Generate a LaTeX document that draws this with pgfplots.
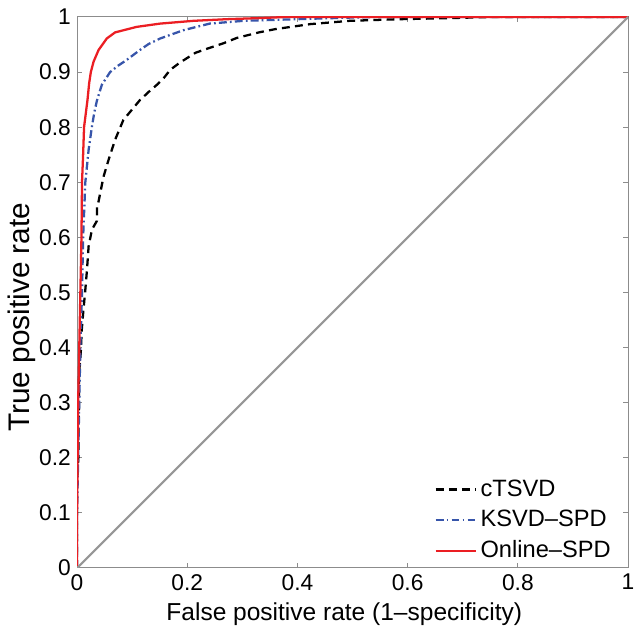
\documentclass[border=0pt]{standalone}
\usepackage{pgfplots}
\pgfplotsset{compat=1.18}
\usepackage{fontspec}
\setmainfont{Liberation Sans}
\usetikzlibrary{calc}
\definecolor{axgray}{RGB}{140,140,140}
\definecolor{diaggray}{RGB}{150,150,150}
\definecolor{ksvdblue}{RGB}{55,85,170}
\definecolor{onlinered}{RGB}{235,30,35}
\begin{document}
\begin{tikzpicture}
\begin{axis}[name=ax,
  scale only axis, width=314.6pt, height=314.6pt,
  xmin=0, xmax=1, ymin=0, ymax=1,
  xtick={0,0.2,0.4,0.6,0.8,1},
  ytick={0,0.1,0.2,0.3,0.4,0.5,0.6,0.7,0.8,0.9,1},
  tick align=inside, tick pos=both,
  major tick length=3pt,
  axis line style={axgray, line width=0.6pt},
  every tick/.style={axgray, line width=0.6pt},
  /pgf/number format/assume math mode=true,
  /pgf/number format/fixed,
  tick label style={font=\fontsize{13}{15}\selectfont, black},
  xlabel style={font=\fontsize{14}{16}\selectfont, black, at={(ticklabel cs:0.485)}},
  ylabel style={font=\fontsize{17}{20}\selectfont, black, at={(ticklabel cs:0.455)}},
  ylabel shift=-5pt,
  xlabel={False positive rate (1--specificity)},
  ylabel={True positive rate},
  legend style={draw=none, fill=none, at={(0.985,0.0)}, anchor=south east,
    font=\fontsize{13.5}{16}\selectfont, row sep=2.5pt,
    legend cell align=left},
  legend image code/.code={\draw[#1] (0pt,0pt) -- (23pt,0pt);},
  clip=true,
]
\addplot[black, line width=1.3pt, dash pattern=on 4.5pt off 3pt] coordinates {
(0,0) (0,0.16) (0.0024,0.2) (0.0024,0.25) (0.0036,0.3) (0.0036,0.354) (0.0067,0.39)
(0.0085,0.432) (0.011,0.462) (0.015,0.505) (0.018,0.541) (0.021,0.584) (0.027,0.614)
(0.036,0.63) (0.036,0.655) (0.039,0.665) (0.045,0.695) (0.048,0.71) (0.057,0.74)
(0.069,0.777) (0.084,0.813) (0.099,0.831) (0.114,0.849) (0.13,0.864) (0.145,0.877)
(0.158,0.89) (0.169,0.904) (0.185,0.916) (0.199,0.925) (0.215,0.935) (0.229,0.94)
(0.265,0.952) (0.29,0.962) (0.33,0.972) (0.36,0.978) (0.423,0.987) (0.495,0.993)
(0.586,0.996) (0.68,0.998) (0.75,1) (1,1)
};
\addlegendentry{cTSVD}
\addplot[ksvdblue, line width=1.3pt, dash pattern=on 4.5pt off 1.8pt on 1pt off 1.8pt] coordinates {
(0,0) (0,0.1) (0.002,0.2) (0.004,0.3) (0.006,0.4) (0.009,0.5) (0.011,0.6)
(0.015,0.7) (0.021,0.759) (0.027,0.801) (0.031,0.825) (0.036,0.848) (0.045,0.877)
(0.06,0.9) (0.075,0.912) (0.09,0.922) (0.114,0.94) (0.13,0.951) (0.151,0.961)
(0.193,0.976) (0.241,0.988) (0.302,0.993) (0.4,0.996) (0.5,0.999) (0.55,1) (1,1)
};
\addlegendentry{KSVD--SPD}
\addplot[onlinered, line width=1.3pt] coordinates {
(0,0) (0,0.1) (0.001,0.2) (0.002,0.3) (0.004,0.4) (0.006,0.5) (0.008,0.6)
(0.009,0.7) (0.011,0.75) (0.0127,0.8) (0.019,0.85) (0.022,0.88) (0.025,0.9)
(0.03,0.919) (0.039,0.94) (0.054,0.961) (0.069,0.972) (0.108,0.982)
(0.151,0.988) (0.211,0.993) (0.272,0.996) (0.332,0.998) (0.38,1) (1,1)
};
\addlegendentry{Online--SPD}
\addplot[diaggray, line width=1.2pt, forget plot] coordinates {(0,0) (1,1)};
\end{axis}
\pgfresetboundingbox
\path ($(ax.south west)+(-44pt,-38.3pt)$) rectangle ($(ax.north east)+(7.4pt,9.7pt)$);
\end{tikzpicture}
\end{document}
